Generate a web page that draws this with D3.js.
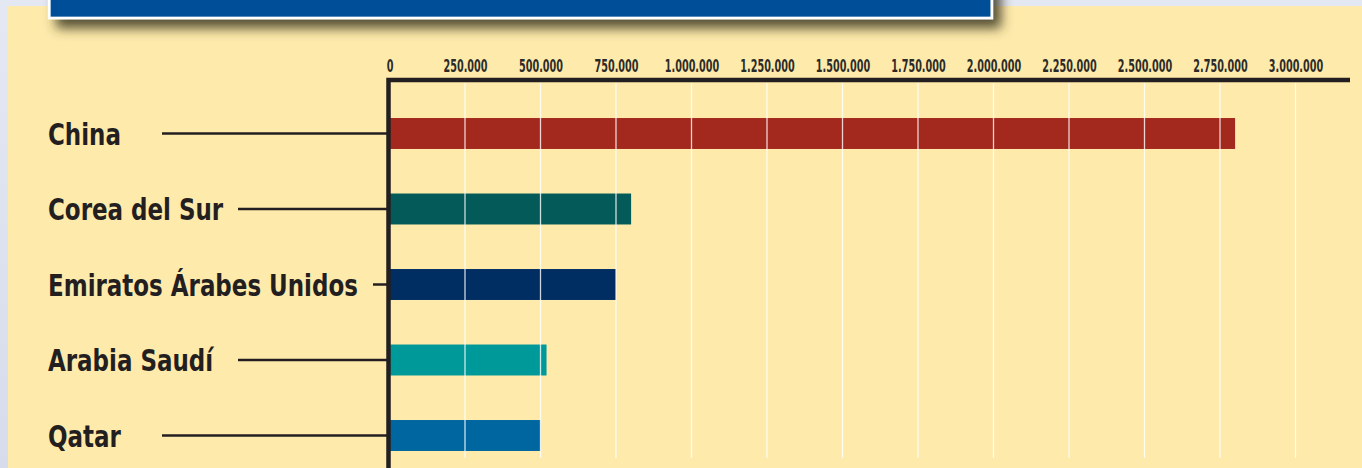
<!DOCTYPE html>
<html>
<head>
<meta charset="utf-8">
<script src="https://cdn.jsdelivr.net/npm/d3@7"></script>
<style>
  html, body { margin: 0; padding: 0; background: #dfe4f0; overflow: hidden; }
  svg { display: block; }
</style>
</head>
<body>
<div id="chart"></div>
<script>
// Datos
const paises = ["China", "Corea del Sur", "Emiratos Árabes Unidos", "Arabia Saudí", "Qatar"];
const valores = [2800000, 800000, 750000, 520000, 500000];
const colores = ["#a3281e", "#045a58", "#002d62", "#00999a", "#0066a0"];
const marcas = [0, 250000, 500000, 750000, 1000000, 1250000, 1500000, 1750000,
                2000000, 2250000, 2500000, 2750000, 3000000];

const width = 1362, height = 468;
const fontCond = "'Liberation Sans Narrow', 'Arial Narrow', 'DejaVu Sans Condensed', sans-serif";

const es = d3.formatLocale({decimal: ",", thousands: ".", grouping: [3], currency: ["", " €"]});
const fmt = es.format(",d");

const svg = d3.select("#chart")
  .append("svg")
  .attr("width", width)
  .attr("height", height);

const defs = svg.append("defs");
const bgGrad = defs.append("linearGradient").attr("id", "bgGrad")
  .attr("x1", 0).attr("y1", 0).attr("x2", 0).attr("y2", 1);
bgGrad.append("stop").attr("offset", 0).attr("stop-color", "#e4e8f3");
bgGrad.append("stop").attr("offset", 1).attr("stop-color", "#d6dcec");

const shadow = defs.append("filter").attr("id", "sombra")
  .attr("x", "-5%").attr("y", "-50%").attr("width", "115%").attr("height", "250%");
shadow.append("feDropShadow")
  .attr("dx", 8).attr("dy", 9).attr("stdDeviation", 6)
  .attr("flood-color", "#3b3520").attr("flood-opacity", 0.85);

// fondo
svg.append("rect")
  .attr("width", width).attr("height", height)
  .attr("fill", "url(#bgGrad)");

// panel amarillo
svg.append("rect")
  .attr("x", 8).attr("y", 6)
  .attr("width", width - 8).attr("height", height)
  .attr("fill", "#feeaab");

// cabecera azul (cortada arriba)
svg.append("rect")
  .attr("x", 49.3).attr("y", -40)
  .attr("width", 942.5).attr("height", 58)
  .attr("fill", "#004e98")
  .attr("stroke", "#ffffff")
  .attr("stroke-width", 2.7)
  .attr("filter", "url(#sombra)");

// escalas
const x = d3.scaleLinear()
  .domain([0, 3000000])
  .range([389.5, 1295.5]);

const y = d3.scaleBand()
  .domain(paises)
  .range([95.75, 473.25])
  .paddingInner(0.59)
  .paddingOuter(0.295);

// barras
svg.selectAll(".barra")
  .data(paises)
  .enter()
  .append("rect")
  .attr("class", "barra")
  .attr("x", x(0))
  .attr("y", d => y(d))
  .attr("width", (d, i) => x(valores[i]) - x(0))
  .attr("height", y.bandwidth())
  .attr("fill", (d, i) => colores[i]);

// líneas de cuadrícula blancas
svg.selectAll(".grid")
  .data(marcas.slice(1))
  .enter()
  .append("line")
  .attr("class", "grid")
  .attr("x1", d => x(d)).attr("x2", d => x(d))
  .attr("y1", 83).attr("y2", 458)
  .attr("stroke", "#ffffff")
  .attr("stroke-opacity", 0.8)
  .attr("stroke-width", 1.3);

// eje superior con etiquetas
const ejeX = svg.append("g")
  .attr("transform", "translate(0,71.5)")
  .call(d3.axisTop(x).tickValues(marcas).tickFormat(fmt).tickSize(0).tickPadding(0));
ejeX.select(".domain").remove();
const ticksTxt = ejeX.selectAll("text")
  .attr("y", 0)
  .attr("dy", 0)
  .attr("fill", "#2b2a28")
  .style("font-family", fontCond)
  .style("font-size", "18px")
  .style("font-weight", "bold");
// la tipografía original es muy estrecha: comprimir en horizontal
const kTick = 44 / ticksTxt.filter((d, i) => i === 1).node().getComputedTextLength();
ticksTxt.attr("transform", `scale(${kTick},1)`);

// marco del eje (vertical + horizontal)
svg.append("path")
  .attr("d", `M${x(0) - 1},${height + 5}V80H1350`)
  .attr("fill", "none")
  .attr("stroke", "#231f20")
  .attr("stroke-width", 4.5)
  .attr("stroke-linejoin", "miter");

// etiquetas de país
const etiquetas = svg.selectAll(".pais")
  .data(paises)
  .enter()
  .append("text")
  .attr("class", "pais")
  .attr("x", 0)
  .attr("y", 0)
  .text(d => d)
  .attr("fill", "#231f20")
  .style("font-family", fontCond)
  .style("font-size", "31px")
  .style("font-weight", "bold");

const kPais = 310 / etiquetas.filter((d, i) => i === 2).node().getComputedTextLength();
etiquetas.attr("transform", d => `translate(48,${y(d) + y.bandwidth() / 2 + 11}) scale(${kPais},1)`);

// líneas guía hasta el eje: arrancan en unas pocas columnas fijas
const inicios = [162, 238, 373];
etiquetas.each(function(d) {
  const fin = 48 + this.getComputedTextLength() * kPais + 12;
  const x1 = inicios.find(v => v >= fin) || fin;
  const yc = y(d) + y.bandwidth() / 2;
  svg.append("line")
    .attr("x1", x1).attr("x2", x(0) - 1)
    .attr("y1", yc).attr("y2", yc)
    .attr("stroke", "#231f20")
    .attr("stroke-width", 2.5);
});
</script>
</body>
</html>
